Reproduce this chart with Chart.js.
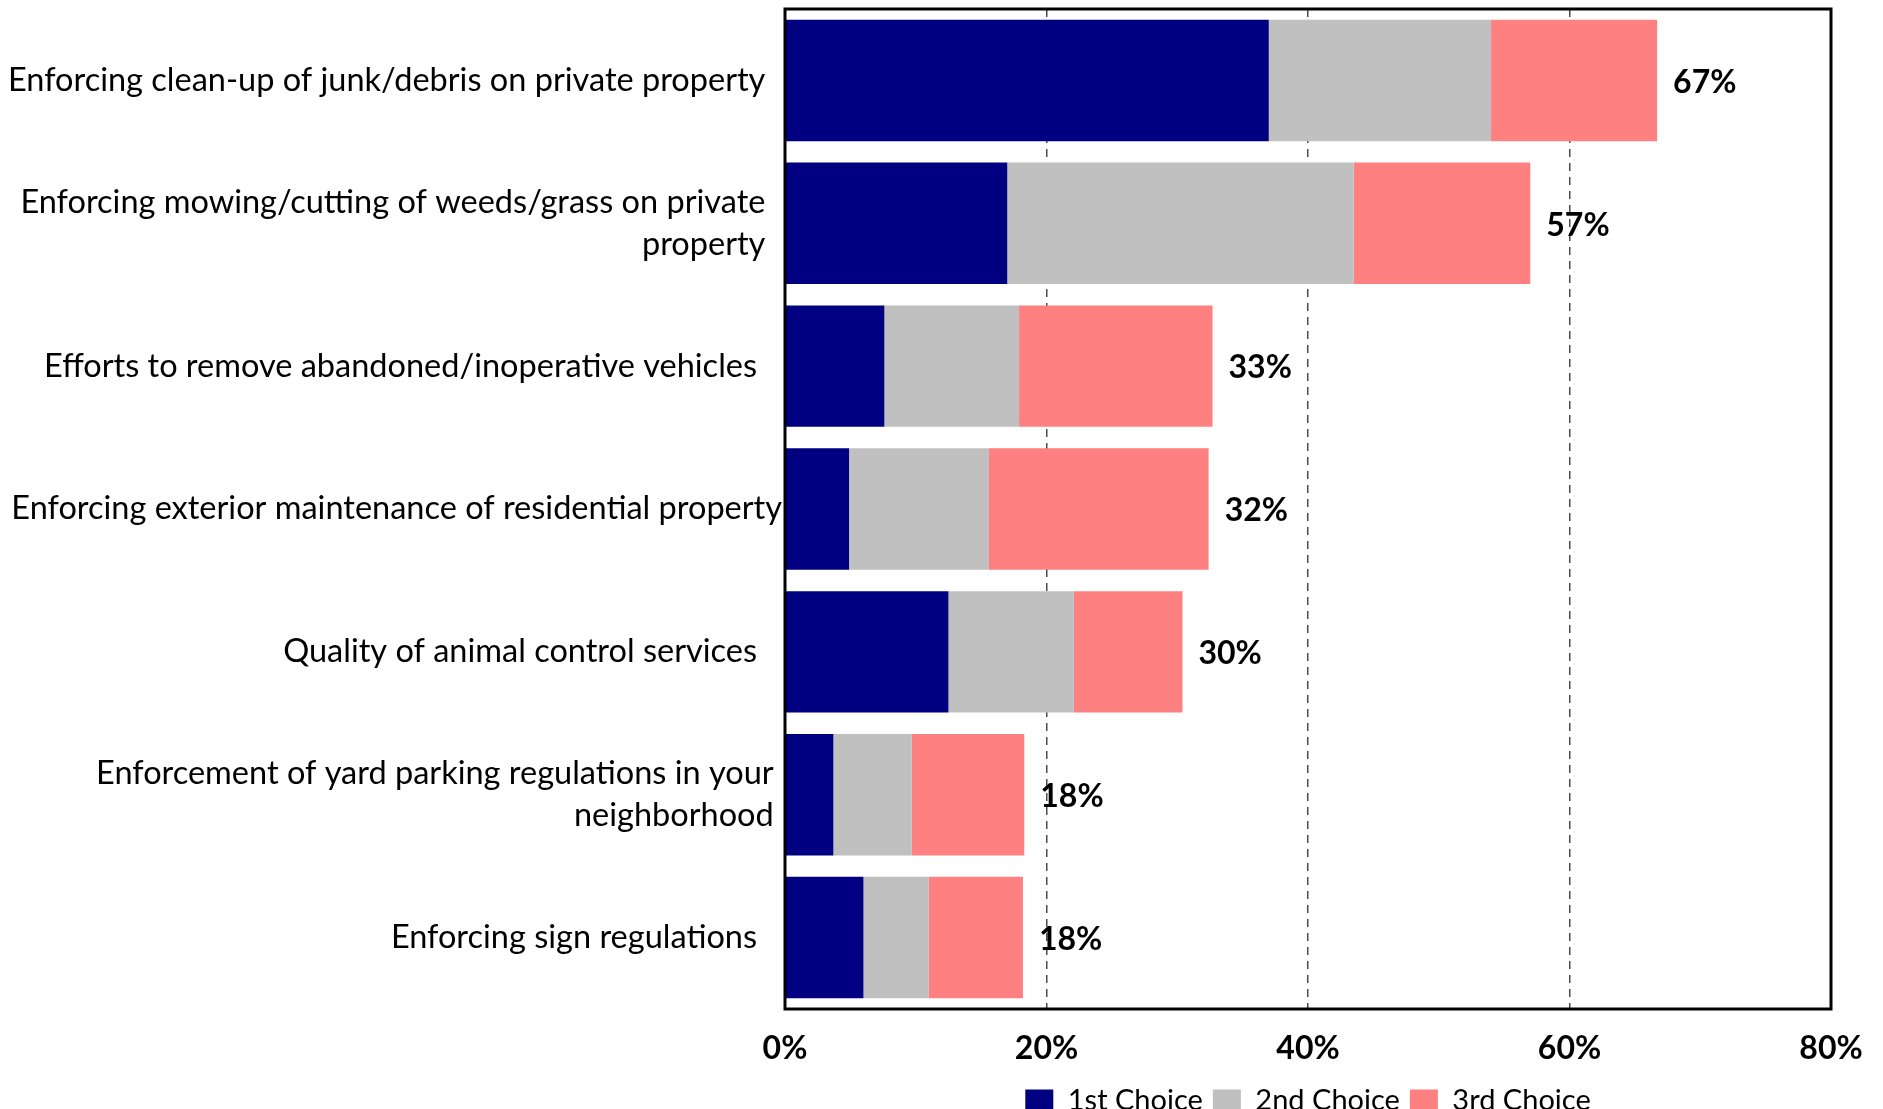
<!DOCTYPE html>
<html>
<head>
<meta charset="utf-8">
<script src="https://cdn.jsdelivr.net/npm/chart.js@4.4.1/dist/chart.umd.min.js"></script>
<style>
  html, body { margin: 0; padding: 0; background: #fff; }
</style>
</head>
<body>
<canvas id="choiceChart" width="1883" height="1109"></canvas>
<script>
const categories = [
    'Enforcing clean-up of junk/debris on private property  ',
    ['Enforcing mowing/cutting of weeds/grass on private  ', 'property  '],
    'Efforts to remove abandoned/inoperative vehicles   ',
    'Enforcing exterior maintenance of residential property',
    'Quality of animal control services   ',
    ['Enforcement of yard parking regulations in your ', 'neighborhood '],
    'Enforcing sign regulations   '
];
const firstChoice = [37.0, 17.0, 7.6, 4.9, 12.5, 3.7, 6.0];
const secondChoice = [17.0, 26.5, 10.3, 10.7, 9.6, 6.0, 5.0];
const thirdChoice = [12.7, 13.5, 14.8, 16.8, 8.3, 8.6, 7.2];
const xTicks = [0, 20, 40, 60, 80];

const FONT = 'Lato, "Open Sans", sans-serif';

// black box around the plot area
const plotFrame = {
    id: 'plotFrame',
    afterDraw(chart) {
        const { ctx, chartArea: a } = chart;
        ctx.save();
        ctx.strokeStyle = '#000';
        ctx.lineWidth = 3;
        ctx.strokeRect(a.left, a.top, a.right - a.left, a.bottom - a.top);
        ctx.restore();
    }
};

// total share written past the end of each stacked bar
const totalLabels = {
    id: 'totalLabels',
    afterDatasetsDraw(chart) {
        const { ctx } = chart;
        const meta = chart.getDatasetMeta(chart.data.datasets.length - 1);
        ctx.save();
        ctx.font = `bold 32px ${FONT}`;
        ctx.fillStyle = '#000';
        ctx.textAlign = 'left';
        ctx.textBaseline = 'middle';
        meta.data.forEach((bar, i) => {
            const total = firstChoice[i] + secondChoice[i] + thirdChoice[i];
            ctx.fillText(Math.round(total) + '%', bar.x + 16, bar.y + 2);
        });
        ctx.restore();
    }
};

Chart.defaults.color = '#000';

new Chart(document.getElementById('choiceChart'), {
    type: 'bar',
    data: {
        labels: categories,
        datasets: [
            { label: '1st Choice', data: firstChoice, backgroundColor: '#000080' },
            { label: '2nd Choice', data: secondChoice, backgroundColor: '#C0C0C0' },
            { label: '3rd Choice', data: thirdChoice, backgroundColor: '#FF8080' }
        ]
    },
    options: {
        indexAxis: 'y',
        responsive: false,
        animation: false,
        events: [],
        devicePixelRatio: 1,
        datasets: {
            bar: { barPercentage: 1, categoryPercentage: 0.85 }
        },
        layout: {
            padding: { top: 9, right: 52, left: 0, bottom: -16 }
        },
        scales: {
            x: {
                stacked: true,
                min: 0,
                max: 80,
                afterBuildTicks: (scale) => { scale.ticks = xTicks.map(v => ({ value: v })); },
                afterFit: (scale) => { scale.height = 67; },
                ticks: {
                    callback: (v) => v + '%',
                    font: { family: FONT, size: 32, weight: 'bold' },
                    padding: 20
                },
                grid: {
                    drawTicks: false,
                    lineWidth: 1.5,
                    color: (ctx) => (ctx.tick && (ctx.tick.value === 0 || ctx.tick.value === 80)) ? 'rgba(0,0,0,0)' : '#4a4a4a'
                },
                border: { display: false, dash: [8, 6] }
            },
            y: {
                stacked: true,
                afterFit: (scale) => {
                    scale.width = 785;
                    // bars are offset, so the outer labels never overhang the plot
                    scale.paddingTop = 0;
                    scale.paddingBottom = 0;
                },
                ticks: {
                    font: { family: FONT, size: 32.5, lineHeight: 1.3 },
                    padding: 3
                },
                grid: { display: false, drawTicks: false },
                border: { display: false }
            }
        },
        plugins: {
            tooltip: { enabled: false },
            legend: {
                position: 'bottom',
                fullSize: false,
                labels: {
                    font: { family: FONT, size: 29, lineHeight: 1 },
                    boxWidth: 28,
                    boxHeight: 22,
                    padding: 10,
                    color: '#000'
                }
            }
        }
    },
    plugins: [plotFrame, totalLabels]
});
</script>
</body>
</html>
